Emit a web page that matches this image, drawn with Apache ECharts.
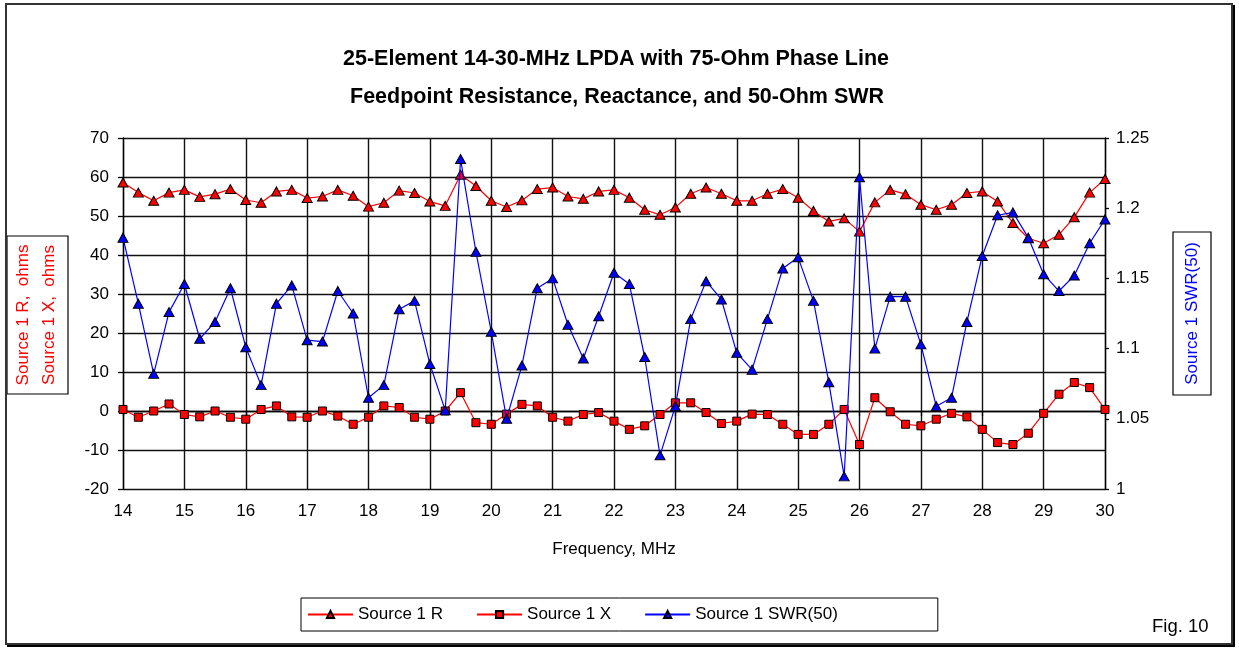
<!DOCTYPE html>
<html><head><meta charset="utf-8">
<script src="https://cdn.jsdelivr.net/npm/echarts@6/dist/echarts.min.js"></script>
<style>html,body{margin:0;padding:0;background:#fff}#c{width:1239px;height:649px}</style>
</head><body><div id="c"></div>
<script>
const freqMHz = [14,14.25,14.5,14.75,15,15.25,15.5,15.75,16,16.25,16.5,16.75,17,17.25,17.5,17.75,18,18.25,18.5,18.75,19,19.25,19.5,19.75,20,20.25,20.5,20.75,21,21.25,21.5,21.75,22,22.25,22.5,22.75,23,23.25,23.5,23.75,24,24.25,24.5,24.75,25,25.25,25.5,25.75,26,26.25,26.5,26.75,27,27.25,27.5,27.75,28,28.25,28.5,28.75,29,29.25,29.5,29.75,30];
const sourceR = [58.6,56.0,53.9,56.0,56.7,54.9,55.6,56.9,54.1,53.4,56.3,56.7,54.6,55.0,56.7,55.2,52.4,53.4,56.5,55.9,53.7,
  52.6,60.6,57.7,53.9,52.3,54.0,56.9,57.3,55.0,54.4,56.3,56.7,54.7,51.6,50.3,52.2,55.7,57.3,55.7,53.9,
  53.9,55.7,56.9,54.7,51.3,48.6,49.4,46.0,53.5,56.7,55.6,52.9,51.6,52.9,55.9,56.3,53.7,48.2,44.3,43.0,45.2,49.7,56.0,59.5];
const sourceX = [0.4,-1.6,0,1.8,-0.9,-1.5,0,-1.6,-2.1,0.4,1.3,-1.5,-1.6,0,-1.3,-3.4,-1.6,1.3,0.9,-1.6,-2.1,
  0,4.7,-3.0,-3.4,-0.8,1.7,1.3,-1.6,-2.6,-0.9,-0.4,-2.6,-4.7,-3.8,-0.9,2.1,2.1,-0.4,-3.2,-2.6,
  -0.8,-0.9,-3.4,-6.0,-6.0,-3.4,0.4,-8.6,3.4,-0.2,-3.4,-3.8,-2.1,-0.6,-1.5,-4.7,-8.1,-8.6,-5.7,-0.6,4.3,7.3,6.0,0.4];
const sourceSWR = [1.179,1.132,1.082,1.126,1.146,1.107,1.119,1.143,1.101,1.074,1.132,1.145,1.106,1.105,1.141,1.125,1.065,1.074,1.128,1.134,1.089,
  1.056,1.235,1.169,1.112,1.050,1.088,1.143,1.150,1.117,1.093,1.123,1.154,1.146,1.094,1.024,1.059,1.121,1.148,1.135,1.097,
  1.085,1.121,1.157,1.165,1.134,1.076,1.009,1.222,1.100,1.137,1.137,1.103,1.059,1.065,1.119,1.166,1.195,1.197,1.179,1.153,1.141,1.152,1.175,1.192];
const seriesNames = ['Source 1 R','Source 1 X','Source 1 SWR(50)'];
const titleLines = ['25-Element 14-30-MHz LPDA with 75-Ohm Phase Line','Feedpoint Resistance, Reactance, and 50-Ohm SWR'];

const F = '"Liberation Sans", Arial, sans-serif';
const TF = '"Liberation Sans Narrow", "Liberation Sans", Arial, sans-serif';
const pair = ys => freqMHz.map((f, i) => [f, ys[i]]);
const chart = echarts.init(document.getElementById('c'));
chart.setOption({
  animation: false,
  backgroundColor: '#fff',
  textStyle: { fontFamily: F },
  title: [
    { text: titleLines[0], left: 338, top: 43, textStyle: { fontFamily: TF, fontWeight: 'bold', fontSize: 21.5, color: '#000' } },
    { text: titleLines[1], left: 345, top: 81, textStyle: { fontFamily: TF, fontWeight: 'bold', fontSize: 21.5, color: '#000' } }
  ],
  grid: { left: 123, top: 138, width: 982, height: 351, show: false },
  legend: {
    left: 301, top: 598,
    padding: [8, 100, 8, 6],
    borderColor: '#000', borderWidth: 1,
    itemWidth: 45, itemHeight: 9, itemGap: 33,
    textStyle: { fontSize: 17, color: '#000', fontFamily: F },
    data: seriesNames
  },
  xAxis: {
    type: 'value', min: 14, max: 30, interval: 1,
    name: 'Frequency, MHz', nameLocation: 'middle', nameGap: 52,
    nameTextStyle: { fontSize: 17, color: '#000', fontFamily: F },
    axisLine: { lineStyle: { color: '#000', width: 1.3 } },
    axisTick: { show: true, inside: false, length: 5, lineStyle: { color: '#000', width: 1.3 } },
    axisLabel: { fontSize: 17, color: '#000', margin: 14, fontFamily: F },
    splitLine: { show: true, lineStyle: { color: '#111', width: 1.4 } }
  },
  yAxis: [
    {
      type: 'value', min: -20, max: 70, interval: 10, position: 'left',
      axisLine: { show: true, lineStyle: { color: '#000', width: 1.3 } },
      axisTick: { show: true, inside: false, length: 5, lineStyle: { color: '#000', width: 1.3 } },
      axisLabel: { fontSize: 17, color: '#000', margin: 14, fontFamily: F },
      splitLine: { show: true, lineStyle: { color: '#111', width: 1.4 } }
    },
    {
      type: 'value', min: 1, max: 1.25, interval: 0.05, position: 'right',
      axisLine: { show: true, lineStyle: { color: '#000', width: 1.3 } },
      axisTick: { show: true, inside: false, length: 4, lineStyle: { color: '#000', width: 1.3 } },
      axisLabel: { fontSize: 17, color: '#000', margin: 11, fontFamily: F, formatter: v => String(parseFloat(v.toFixed(2))) },
      splitLine: { show: false }
    }
  ],
  series: [
    {
      name: seriesNames[0], type: 'line', yAxisIndex: 0, data: pair(sourceR),
      symbol: 'triangle', symbolSize: [10, 9], showAllSymbol: true,
      lineStyle: { color: '#ff0000', width: 1.2 },
      itemStyle: { color: '#ff0000', borderColor: '#000', borderWidth: 1 },
      z: 3
    },
    {
      name: seriesNames[1], type: 'line', yAxisIndex: 0, data: pair(sourceX),
      symbol: 'rect', symbolSize: 8, showAllSymbol: true,
      lineStyle: { color: '#ff0000', width: 1.2 },
      itemStyle: { color: '#ff0000', borderColor: '#000', borderWidth: 1 },
      z: 3
    },
    {
      name: seriesNames[2], type: 'line', yAxisIndex: 1, data: pair(sourceSWR),
      symbol: 'triangle', symbolSize: [10, 9], showAllSymbol: true,
      lineStyle: { color: '#0000ff', width: 1.2 },
      itemStyle: { color: '#0000ff', borderColor: '#000', borderWidth: 1 },
      z: 4
    }
  ],
  graphic: [
    { type: 'rect', shape: { x: 6, y: 4, width: 1226, height: 640 }, style: { fill: null, stroke: '#333', lineWidth: 2 }, z: 100 },
    { type: 'line', shape: { x1: 1234, y1: 5, x2: 1234, y2: 646 }, style: { stroke: '#000', lineWidth: 2 }, z: 100 },
    { type: 'line', shape: { x1: 7, y1: 646, x2: 1235, y2: 646 }, style: { stroke: '#000', lineWidth: 2 }, z: 100 },
    { type: 'rect', shape: { x: 7, y: 236, width: 61, height: 158 }, style: { fill: '#fff', stroke: '#000', lineWidth: 1.2 }, z: 50 },
    { type: 'text', x: 36.5, y: 315, rotation: Math.PI / 2, style: { text: 'Source 1 R,  ohms\nSource 1 X,  ohms', fill: '#ff0000', font: '17px ' + F, align: 'center', verticalAlign: 'middle', lineHeight: 26 }, z: 51 },
    { type: 'rect', shape: { x: 1173, y: 232, width: 38, height: 163 }, style: { fill: '#fff', stroke: '#000', lineWidth: 1.2 }, z: 50 },
    { type: 'text', x: 1192, y: 313.5, rotation: Math.PI / 2, style: { text: 'Source 1 SWR(50)', fill: '#0000ff', font: '17px ' + F, align: 'center', verticalAlign: 'middle' }, z: 51 },
    { type: 'text', x: 1152, y: 627, style: { text: 'Fig. 10', fill: '#000', font: '18.5px ' + F, align: 'left', verticalAlign: 'middle' }, z: 51 }
  ]
});
</script></body></html>
